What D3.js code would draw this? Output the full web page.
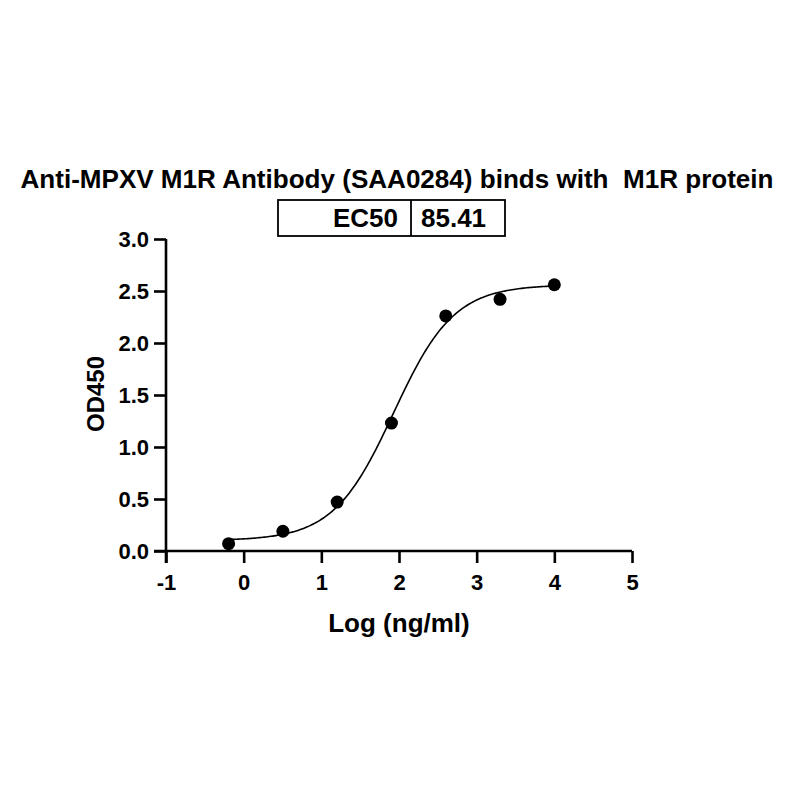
<!DOCTYPE html>
<html>
<head>
<meta charset="utf-8">
<script src="https://cdn.jsdelivr.net/npm/d3@7/dist/d3.min.js"></script>
<style>
  html, body { margin: 0; padding: 0; background: #fff; }
  svg { display: block; }
  text { font-family: "Liberation Sans", Arial, sans-serif; font-weight: bold; fill: #000; white-space: pre; }
</style>
</head>
<body>
<svg id="chart" width="800" height="800"></svg>
<script>
// ---- data ----
const titleText = "Anti-MPXV M1R Antibody (SAA0284) binds with  M1R protein";
const logConc = [-0.194, 0.505, 1.204, 1.903, 2.602, 3.301, 4.0];
const od450 = [0.07, 0.19, 0.47, 1.23, 2.26, 2.42, 2.56];
const xTicks = [-1, 0, 1, 2, 3, 4, 5];
const xTickLabels = ["-1", "0", "1", "2", "3", "4", "5"];
const yTicks = [0.0, 0.5, 1.0, 1.5, 2.0, 2.5, 3.0];
const yTickLabels = ["0.0", "0.5", "1.0", "1.5", "2.0", "2.5", "3.0"];
const tableLabels = ["EC50", "85.41"];
// 4PL fit parameters (EC50 = 85.41 ng/ml)
const fitBottom = 0.10;
const fitTop = 2.56;
const fitLogEC50 = Math.log10(85.41);
const fitHill = 1.12;

// ---- layout ----
const svg = d3.select("#chart");
const x = d3.scaleLinear().domain([-1, 5]).range([166, 632]);
const y = d3.scaleLinear().domain([0, 3]).range([551, 239]);

// title
svg.append("text")
  .attr("x", 397).attr("y", 188)
  .attr("text-anchor", "middle")
  .attr("font-size", 26)
  .attr("textLength", 753).attr("lengthAdjust", "spacingAndGlyphs")
  .text(titleText);

// table
const tbl = svg.append("g");
tbl.append("rect").attr("x", 278).attr("y", 200).attr("width", 227).attr("height", 36)
  .attr("fill", "none").attr("stroke", "#000").attr("stroke-width", 1.8);
tbl.append("line").attr("x1", 411).attr("x2", 411).attr("y1", 200).attr("y2", 236)
  .attr("stroke", "#000").attr("stroke-width", 1.8);
tbl.append("text").attr("x", 398).attr("y", 227).attr("text-anchor", "end")
  .attr("font-size", 26).text(tableLabels[0]);
tbl.append("text").attr("x", 421).attr("y", 227).attr("text-anchor", "start")
  .attr("font-size", 26).text(tableLabels[1]);

// axes
const xAxis = d3.axisBottom(x).tickValues(xTicks).tickFormat((d, i) => xTickLabels[i]).tickSize(12).tickSizeOuter(0);
const yAxis = d3.axisLeft(y).tickValues(yTicks).tickFormat((d, i) => yTickLabels[i]).tickSize(12).tickSizeOuter(0);

const gx = svg.append("g").attr("transform", `translate(0,${y(0)})`).call(xAxis);
const gy = svg.append("g").attr("transform", `translate(${x(-1)},0)`).call(yAxis);

[gx, gy].forEach(g => {
  g.select(".domain").attr("stroke", "#000").attr("stroke-width", 2.6);
  g.selectAll(".tick line").attr("stroke", "#000").attr("stroke-width", 2.6);
  g.selectAll(".tick text").attr("font-size", 22)
    .attr("font-family", "Liberation Sans, Arial, sans-serif").attr("font-weight", "bold").attr("fill", "#000");
});
gx.select(".domain").attr("d", `M${x(-1) - 12},0H${x(5)}`);
gy.select(".domain").attr("d", `M0,${y(3)}V${y(0) + 12}`);
gx.selectAll(".tick text").attr("dy", "0").attr("y", 39);
gy.selectAll(".tick text").attr("x", -17).attr("dy", "0.36em");

// axis titles
svg.append("text").attr("x", 399).attr("y", 632).attr("text-anchor", "middle")
  .attr("font-size", 26).text("Log (ng/ml)");
svg.append("text").attr("transform", "translate(104,394) rotate(-90)")
  .attr("text-anchor", "middle").attr("font-size", 24).text("OD450");

// fitted curve
const fit = v => fitBottom + (fitTop - fitBottom) / (1 + Math.pow(10, (fitLogEC50 - v) * fitHill));
const xs = d3.range(0, 201).map(i => logConc[0] + (logConc[logConc.length - 1] - logConc[0]) * i / 200);
svg.append("path")
  .datum(xs)
  .attr("fill", "none").attr("stroke", "#000").attr("stroke-width", 1.6)
  .attr("d", d3.line().x(d => x(d)).y(d => y(fit(d))));

// points
svg.append("g").selectAll("circle")
  .data(logConc.map((v, i) => [v, od450[i]]))
  .join("circle")
  .attr("cx", d => x(d[0])).attr("cy", d => y(d[1])).attr("r", 6.5).attr("fill", "#000");
</script>
</body>
</html>
